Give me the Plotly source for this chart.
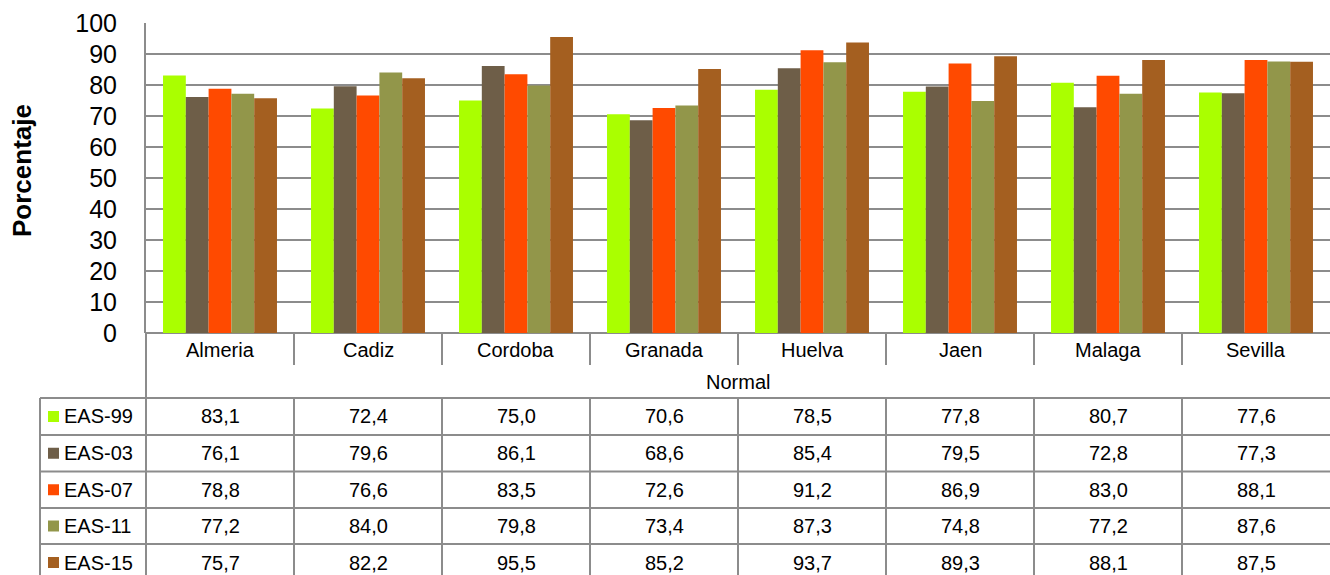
import plotly.graph_objects as go

W, H = 1330, 575

categories = ["Almeria", "Cadiz", "Cordoba", "Granada", "Huelva", "Jaen", "Malaga", "Sevilla"]
series_names = ["EAS-99", "EAS-03", "EAS-07", "EAS-11", "EAS-15"]
eas99 = [83.1, 72.4, 75.0, 70.6, 78.5, 77.8, 80.7, 77.6]
eas03 = [76.1, 79.6, 86.1, 68.6, 85.4, 79.5, 72.8, 77.3]
eas07 = [78.8, 76.6, 83.5, 72.6, 91.2, 86.9, 83.0, 88.1]
eas11 = [77.2, 84.0, 79.8, 73.4, 87.3, 74.8, 77.2, 87.6]
eas15 = [75.7, 82.2, 95.5, 85.2, 93.7, 89.3, 88.1, 87.5]
series_values = [eas99, eas03, eas07, eas11, eas15]
colors = ["#AAFF00", "#6E5E48", "#FF4A00", "#92964A", "#A45F20"]
group_label = "Normal"
y_title = "Porcentaje"
y_ticks = list(range(0, 101, 10))

def py(p):
    return 1 - p / H

def px(p):
    return p / W

GRID = "#8c8c8c"
FONT = "Liberation Sans, Arial, sans-serif"

fig = go.Figure()
for name, vals, col in zip(series_names, series_values, colors):
    fig.add_trace(go.Bar(x=categories, y=vals, name=name, marker_color=col,
                         marker_line_width=0))

plot_left, plot_top, plot_bottom = 146, 23, 333
cat_row_bottom = 365
normal_row_bottom = 398
row_edges = [398, 435, 471.5, 508, 544, 581]
table_left = 40

shapes = []
shapes.append(dict(type="line", xref="paper", yref="paper", x0=px(plot_left), x1=px(plot_left),
                   y0=py(plot_bottom), y1=py(H + 10), line=dict(color=GRID, width=2)))
n = len(categories)
for i in range(1, n):
    shapes.append(dict(type="line", xref="x", yref="paper", x0=i - 0.5, x1=i - 0.5,
                       y0=py(plot_bottom), y1=py(cat_row_bottom), line=dict(color=GRID, width=2)))
    shapes.append(dict(type="line", xref="x", yref="paper", x0=i - 0.5, x1=i - 0.5,
                       y0=py(normal_row_bottom), y1=py(H + 10), line=dict(color=GRID, width=2)))
for e in row_edges[:-1]:
    shapes.append(dict(type="line", xref="paper", yref="paper", x0=px(table_left), x1=1,
                       y0=py(e), y1=py(e), line=dict(color=GRID, width=2)))
shapes.append(dict(type="line", xref="paper", yref="paper", x0=px(table_left), x1=px(table_left),
                   y0=py(row_edges[0]), y1=py(H + 10), line=dict(color=GRID, width=2)))

annotations = []
for c in categories:
    annotations.append(dict(x=c, xref="x", y=py((plot_bottom + cat_row_bottom) / 2 + 1), yref="paper",
                            text=c, showarrow=False, font=dict(size=20, color="black", family=FONT),
                            xanchor="center", yanchor="middle"))
annotations.append(dict(x=(plot_left + W) / 2 / W, xref="paper",
                        y=py((cat_row_bottom + normal_row_bottom) / 2), yref="paper",
                        text=group_label, showarrow=False, font=dict(size=20, color="black", family=FONT),
                        xanchor="center", yanchor="middle"))
for r, (name, vals, col) in enumerate(zip(series_names, series_values, colors)):
    cy = (row_edges[r] + row_edges[r + 1]) / 2
    shapes.append(dict(type="rect", xref="paper", yref="paper", x0=px(48), x1=px(59),
                       y0=py(cy - 5.5), y1=py(cy + 5.5), fillcolor=col, line=dict(width=0)))
    annotations.append(dict(x=px(62), xref="paper", y=py(cy), yref="paper", text=name,
                            showarrow=False, font=dict(size=20, color="black", family=FONT),
                            xanchor="left", yanchor="middle"))
    for c, v in zip(categories, vals):
        annotations.append(dict(x=c, xref="x", y=py(cy), yref="paper",
                                text=f"{v:.1f}".replace(".", ","), showarrow=False,
                                font=dict(size=20, color="black", family=FONT),
                                xanchor="center", yanchor="middle"))
annotations.append(dict(x=px(22), xref="paper", y=py(171), yref="paper", text=f"<b>{y_title}</b>",
                        textangle=-90, showarrow=False, font=dict(size=26, color="black", family=FONT),
                        xanchor="center", yanchor="middle"))

fig.update_layout(
    width=W, height=H,
    margin=dict(l=0, r=0, t=0, b=0, autoexpand=False),
    paper_bgcolor="white", plot_bgcolor="white",
    barmode="group", bargap=0.23, bargroupgap=0,
    showlegend=False,
    font=dict(family=FONT, color="black"),
    xaxis=dict(domain=[px(plot_left), 1], showticklabels=False, showgrid=False, automargin=False,
               showline=False, zeroline=False, ticks="", range=[-0.5, n - 0.5]),
    yaxis=dict(domain=[py(plot_bottom), py(plot_top)], range=[0, 100], tickvals=y_ticks,
               automargin=False,
               showgrid=True, gridcolor=GRID, gridwidth=2, zeroline=True, zerolinecolor=GRID,
               zerolinewidth=2, showline=True, linecolor=GRID, linewidth=2, ticks="",
               tickfont=dict(size=25, color="black", family=FONT), ticklabelstandoff=22),
    shapes=shapes,
    annotations=annotations,
)

fig.write_html("out.html", config={"displayModeBar": False},
               post_script="document.body.style.margin='0';document.body.style.overflow='hidden';")
